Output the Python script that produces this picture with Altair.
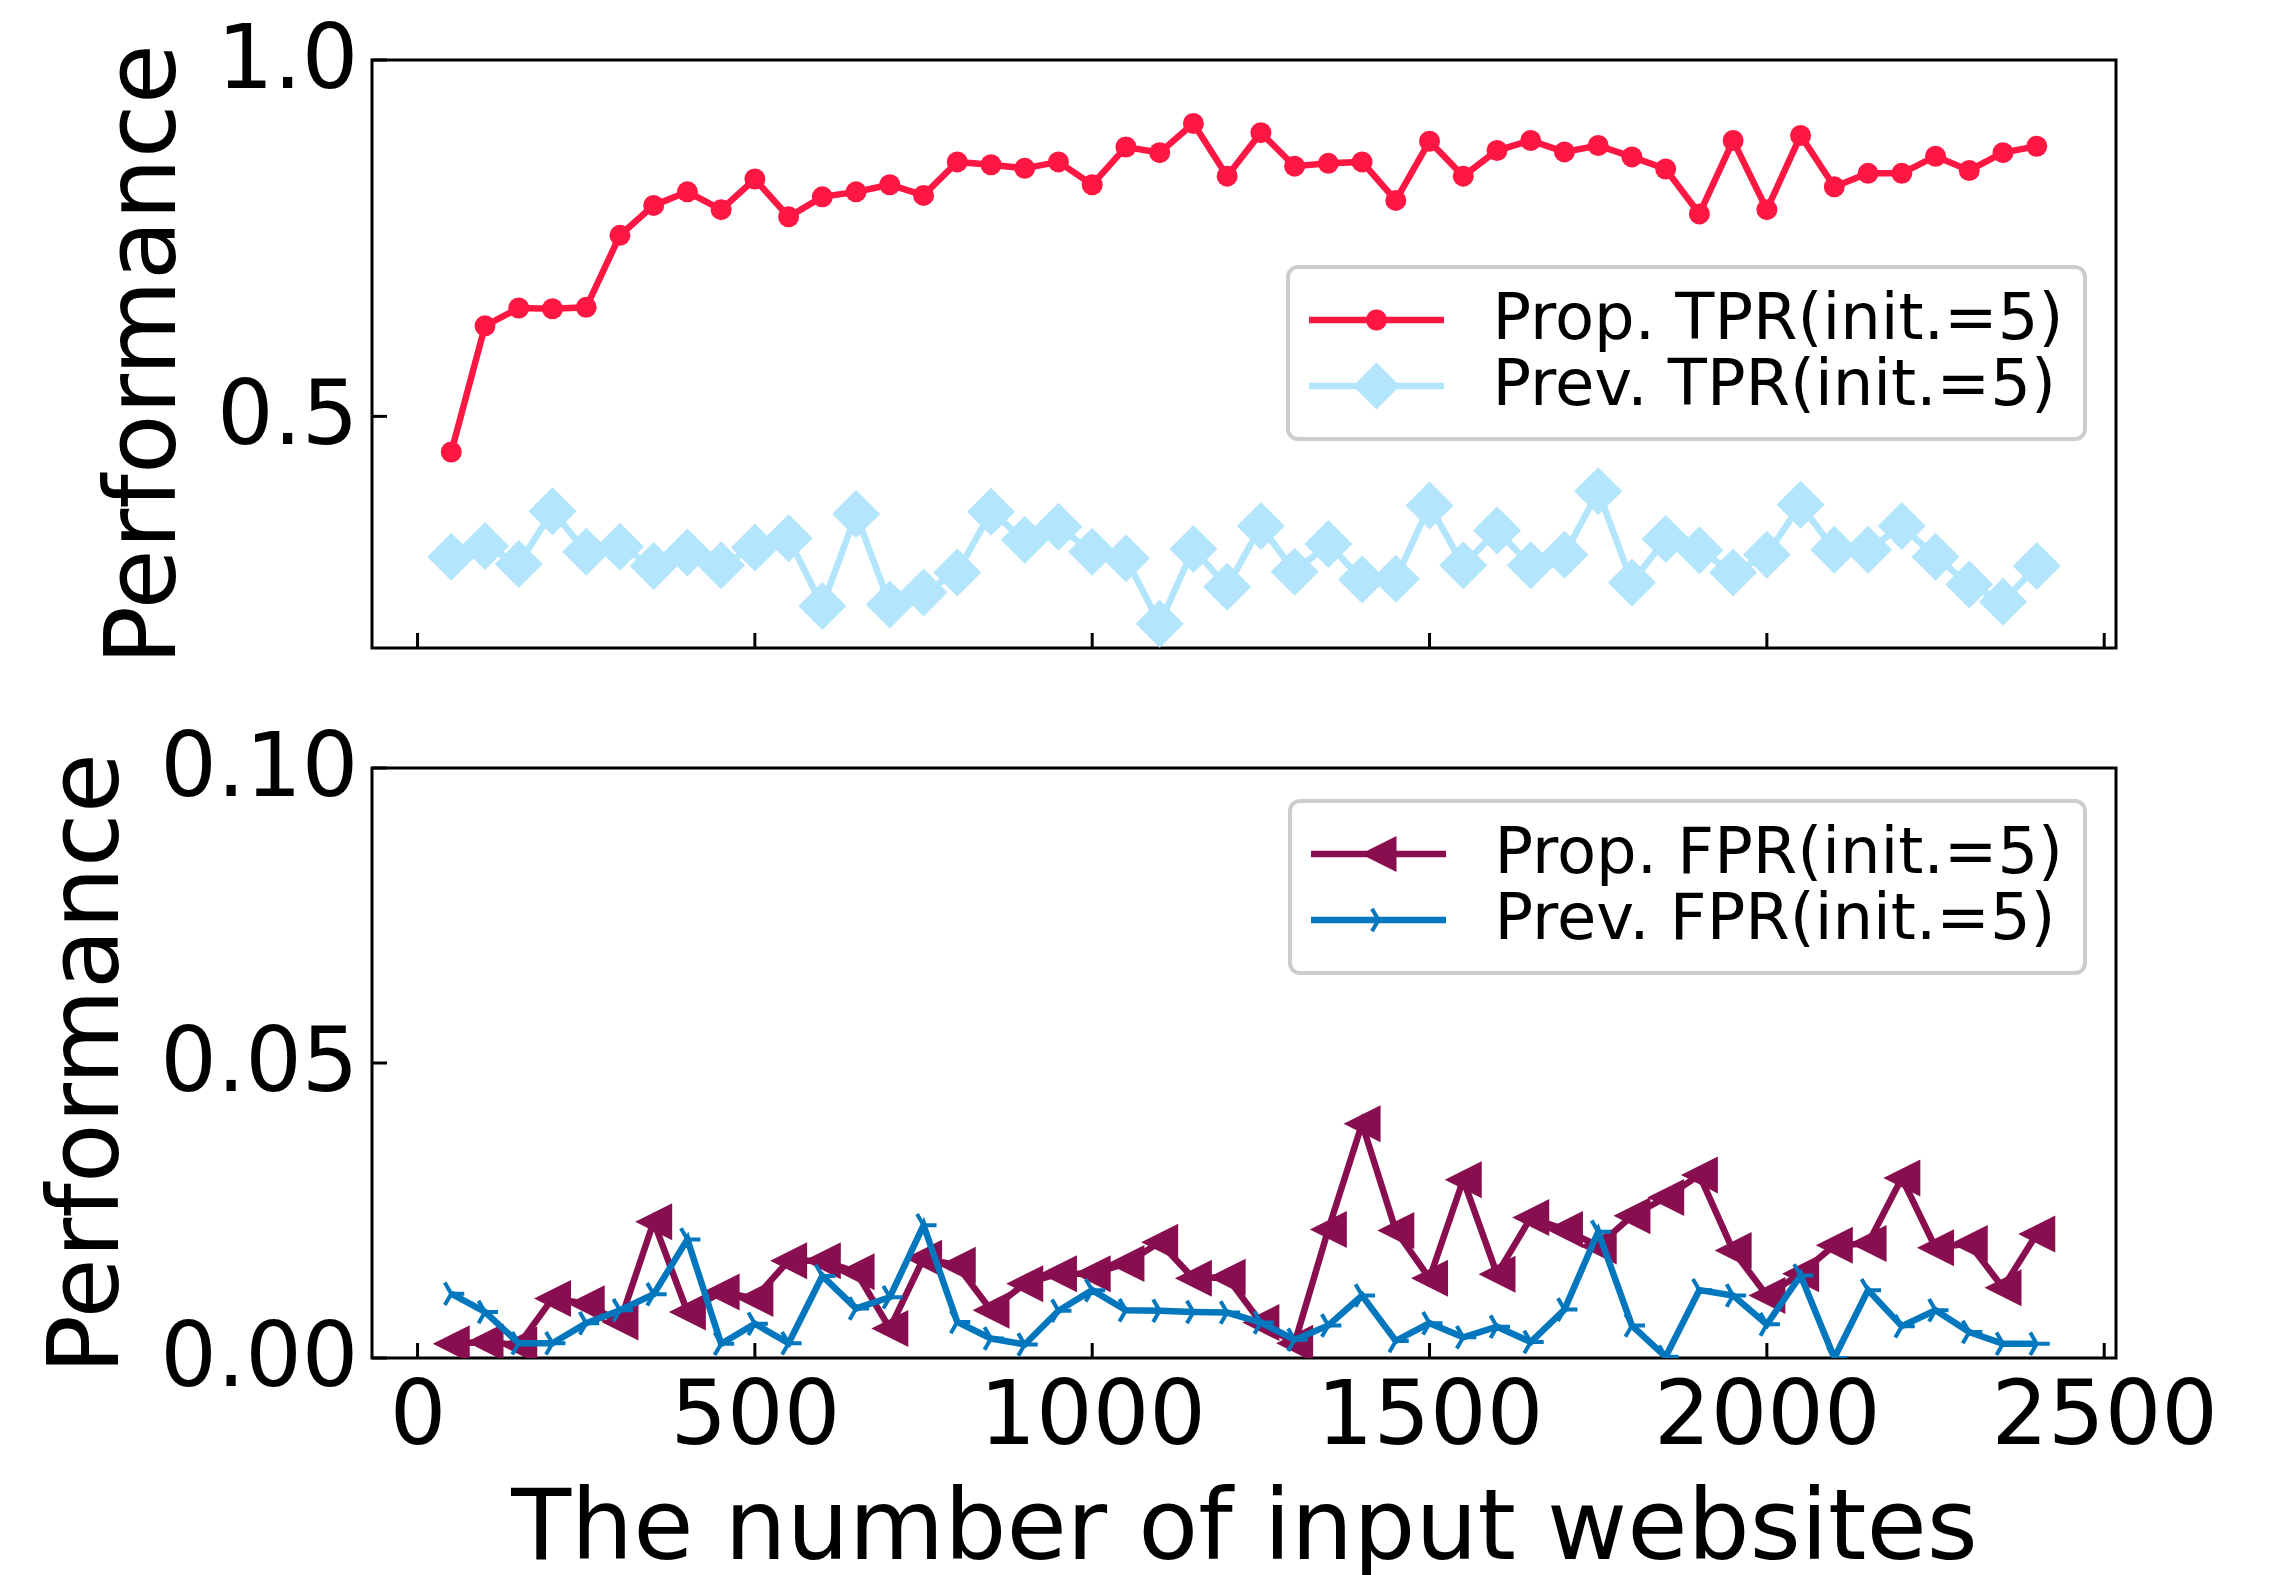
import altair as alt
import pandas as pd

# ---------------- data ----------------
websites = [50, 100, 150, 200, 250, 300, 350, 400, 450, 500,
            550, 600, 650, 700, 750, 800, 850, 900, 950, 1000,
            1050, 1100, 1150, 1200, 1250, 1300, 1350, 1400, 1450, 1500,
            1550, 1600, 1650, 1700, 1750, 1800, 1850, 1900, 1950, 2000,
            2050, 2100, 2150, 2200, 2250, 2300, 2350, 2400]

prop_tpr = [0.450, 0.627, 0.652, 0.651, 0.653, 0.754, 0.796, 0.815, 0.790, 0.833,
            0.780, 0.808, 0.815, 0.825, 0.810, 0.857, 0.853, 0.848, 0.857, 0.825,
            0.878, 0.870, 0.911, 0.837, 0.898, 0.851, 0.855, 0.857, 0.803, 0.886,
            0.837, 0.873, 0.887, 0.871, 0.880, 0.864, 0.847, 0.784, 0.887, 0.790,
            0.894, 0.822, 0.841, 0.841, 0.865, 0.845, 0.870, 0.879]

prev_tpr = [0.303, 0.318, 0.293, 0.367, 0.310, 0.317, 0.290, 0.309, 0.291, 0.316,
            0.329, 0.234, 0.363, 0.236, 0.253, 0.281, 0.366, 0.327, 0.345, 0.310,
            0.301, 0.209, 0.314, 0.261, 0.346, 0.282, 0.321, 0.271, 0.272, 0.375,
            0.291, 0.340, 0.291, 0.306, 0.395, 0.267, 0.328, 0.312, 0.281, 0.306,
            0.376, 0.313, 0.313, 0.346, 0.303, 0.264, 0.240, 0.290]

prop_fpr = [0.0024, 0.0027, 0.0022, 0.0101, 0.0092, 0.0061, 0.0231, 0.0078, 0.0112, 0.0101,
            0.0165, 0.0165, 0.0146, 0.0050, 0.0169, 0.0157, 0.0081, 0.0126, 0.0143, 0.0143,
            0.0160, 0.0196, 0.0135, 0.0137, 0.0060, 0.0025, 0.0218, 0.0397, 0.0216, 0.0135,
            0.0302, 0.0142, 0.0238, 0.0218, 0.0190, 0.0241, 0.0272, 0.0310, 0.0182, 0.0106,
            0.0143, 0.0191, 0.0194, 0.0305, 0.0187, 0.0194, 0.0119, 0.0210]

prev_fpr = [0.0109, 0.0078, 0.0025, 0.0025, 0.0059, 0.0081, 0.0108, 0.0201, 0.0024, 0.0058,
            0.0025, 0.0139, 0.0084, 0.0103, 0.0225, 0.0061, 0.0033, 0.0023, 0.0080, 0.0115,
            0.0081, 0.0080, 0.0078, 0.0077, 0.0060, 0.0031, 0.0055, 0.0106, 0.0029, 0.0059,
            0.0035, 0.0053, 0.0027, 0.0082, 0.0214, 0.0055, 0.0002, 0.0115, 0.0106, 0.0057,
            0.0140, 0.0000, 0.0115, 0.0054, 0.0081, 0.0044, 0.0024, 0.0024]

series_top = ["Prop. TPR(init.=5)", "Prev. TPR(init.=5)"]
series_bot = ["Prop. FPR(init.=5)", "Prev. FPR(init.=5)"]

x_ticks = [0, 500, 1000, 1500, 2000, 2500]
y_ticks_top = [0.5, 1.0]
y_ticks_bot = [0.0, 0.05, 0.10]

# ---------------- styling ----------------
RED = "#FF1744"
LIGHTBLUE = "#B3E5FC"
PURPLE = "#880E4F"
BLUE = "#0277BD"

W = 1744
H_TOP = 588
H_BOT = 590
FONT = "DejaVu Sans"
TICK_FS = 89
TITLE_FS = 98
LEG_FS = 64
LINE_W = 6.5
X_DOMAIN = [-67.5, 2517.5]

# marker shapes (unit square paths)
TRI_LEFT = "M-1,0L1,-1L1,1Z"
TRI_RIGHT = "M0,0L1,0M0,0L-0.5,-0.866M0,0L-0.5,0.866"

# legend handle symbols (line + marker); built in pixels, scaled to the symbol unit
U = LEG_FS / 2.0  # symbol half-size in px (sqrt(size)/2)


def poly(points):
    return "M" + "L".join(f"{x / U:.4f},{y / U:.4f}" for x, y in points) + "Z"


def circle(r):
    r = r / U
    return f"M{r:.4f},0A{r:.4f},{r:.4f} 0 1,1 {-r:.4f},0A{r:.4f},{r:.4f} 0 1,1 {r:.4f},0Z"


HANDLE = poly([(-67.5, -3.2), (67.5, -3.2), (67.5, 3.2), (-67.5, 3.2)])
LEG_CIRCLE = HANDLE + circle(10.5)
LEG_DIAMOND = HANDLE + poly([(-23.5, 0), (0, -23.5), (23.5, 0), (0, 23.5)])
LEG_TRILEFT = HANDLE + poly([(-18, 0), (18, -18), (18, 18)])
LEG_TRIRIGHT = (HANDLE
                + poly([(-1.73, 1.0), (-8.24, -10.26), (-4.78, -12.26), (1.73, -1.0)])
                + poly([(1.73, 1.0), (-4.78, 12.26), (-8.24, 10.26), (-1.73, -1.0)]))


def make_df(names, a, b):
    rows = []
    for xv, va, vb in zip(websites, a, b):
        rows.append({"x": xv, "y": va, "series": names[0]})
        rows.append({"x": xv, "y": vb, "series": names[1]})
    return pd.DataFrame(rows)


def panel(df, names, colors, y_domain, y_ticks, y_fmt, height, show_x_labels,
          markers, leg_shapes, legend_xy, title_pad):
    xscale = alt.Scale(domain=X_DOMAIN, nice=False, zero=False)
    yscale = alt.Scale(domain=y_domain, nice=False, zero=False)
    if show_x_labels:
        xaxis = alt.Axis(values=x_ticks, format="d", labelFontSize=TICK_FS, labelPadding=15,
                         labelFlush=False, labelLimit=1000, title="The number of input websites",
                         titleFontSize=TITLE_FS, titleFontWeight="normal", titlePadding=20,
                         titleLimit=3000, ticks=False, tickSize=0, domain=False, grid=False,
                         labelColor="black", titleColor="black")
    else:
        xaxis = None
    yaxis = alt.Axis(values=y_ticks, format=y_fmt, labelFontSize=TICK_FS, labelPadding=14,
                     labelLimit=1000, title="Performance", titleFontSize=TITLE_FS,
                     titleFontWeight="normal", titlePadding=title_pad, titleLimit=3000,
                     ticks=False, tickSize=0, domain=False, grid=False,
                     labelColor="black", titleColor="black")
    X = alt.X("x:Q", scale=xscale, axis=xaxis)
    Y = alt.Y("y:Q", scale=yscale, axis=yaxis)

    base = alt.Chart(df)
    layers = []
    for name, col, mk in zip(names, colors, markers):
        sub = base.transform_filter(alt.datum.series == name)
        layers.append(sub.mark_line(color=col, strokeWidth=LINE_W, clip=True).encode(x=X, y=Y))
        layers.append(sub.mark_point(color=col, opacity=1, clip=True, **mk).encode(x=X, y=Y))

    leg = alt.Legend(title=None, orient="none", legendX=legend_xy[0], legendY=legend_xy[1],
                     fillColor="white", strokeColor="#cccccc", cornerRadius=10, padding=21,
                     labelFont=FONT, labelFontSize=LEG_FS, labelColor="black", labelLimit=2000,
                     labelOffset=84, rowPadding=2, symbolSize=LEG_FS * LEG_FS,
                     symbolOffset=67.5 - U, symbolStrokeWidth=0, symbolOpacity=1)
    layers.append(
        base.mark_point(filled=True, opacity=0, size=10).encode(
            x=X, y=Y,
            color=alt.Color("series:N", scale=alt.Scale(domain=names, range=colors), legend=leg),
            shape=alt.Shape("series:N", scale=alt.Scale(domain=names, range=leg_shapes), legend=leg),
        )
    )

    xt = alt.Chart(pd.DataFrame({"x": x_ticks})).mark_rule(color="black", strokeWidth=3).encode(
        x=alt.X("x:Q", scale=xscale, axis=xaxis), y=alt.value(height), y2=alt.value(height - 15))
    yt = alt.Chart(pd.DataFrame({"y": y_ticks})).mark_rule(color="black", strokeWidth=3).encode(
        y=alt.Y("y:Q", scale=yscale, axis=yaxis), x=alt.value(0), x2=alt.value(15))
    layers += [xt, yt]
    return alt.layer(*layers).properties(width=W, height=height)


df_top = make_df(series_top, prop_tpr, prev_tpr)
df_bot = make_df(series_bot, prop_fpr, prev_fpr)

top = panel(df_top, series_top, [RED, LIGHTBLUE], [0.175, 1.0], y_ticks_top, ".1f", H_TOP, False,
            [dict(shape="circle", filled=True, size=441),
             dict(shape="diamond", filled=True, size=2304)],
            [LEG_CIRCLE, LEG_DIAMOND], (916, 207), 21)

bot = panel(df_bot, series_bot, [PURPLE, BLUE], [0.0, 0.10], y_ticks_bot, ".2f", H_BOT, True,
            [dict(shape=TRI_LEFT, filled=True, size=1369),
             dict(shape=TRI_RIGHT, filled=False, size=676, strokeWidth=4)],
            [LEG_TRILEFT, LEG_TRIRIGHT], (918, 33), 34)

chart = alt.vconcat(top, bot, spacing=120, bounds="flush") \
    .resolve_scale(color="independent", shape="independent") \
    .properties(padding={"left": 29, "top": 6, "right": 10, "bottom": 0}) \
    .configure(font=FONT) \
    .configure_view(stroke="black", strokeWidth=3) \
    .configure_legend(strokeWidth=4)

chart.save("out.html", embed_options={"renderer": "svg", "actions": False})
